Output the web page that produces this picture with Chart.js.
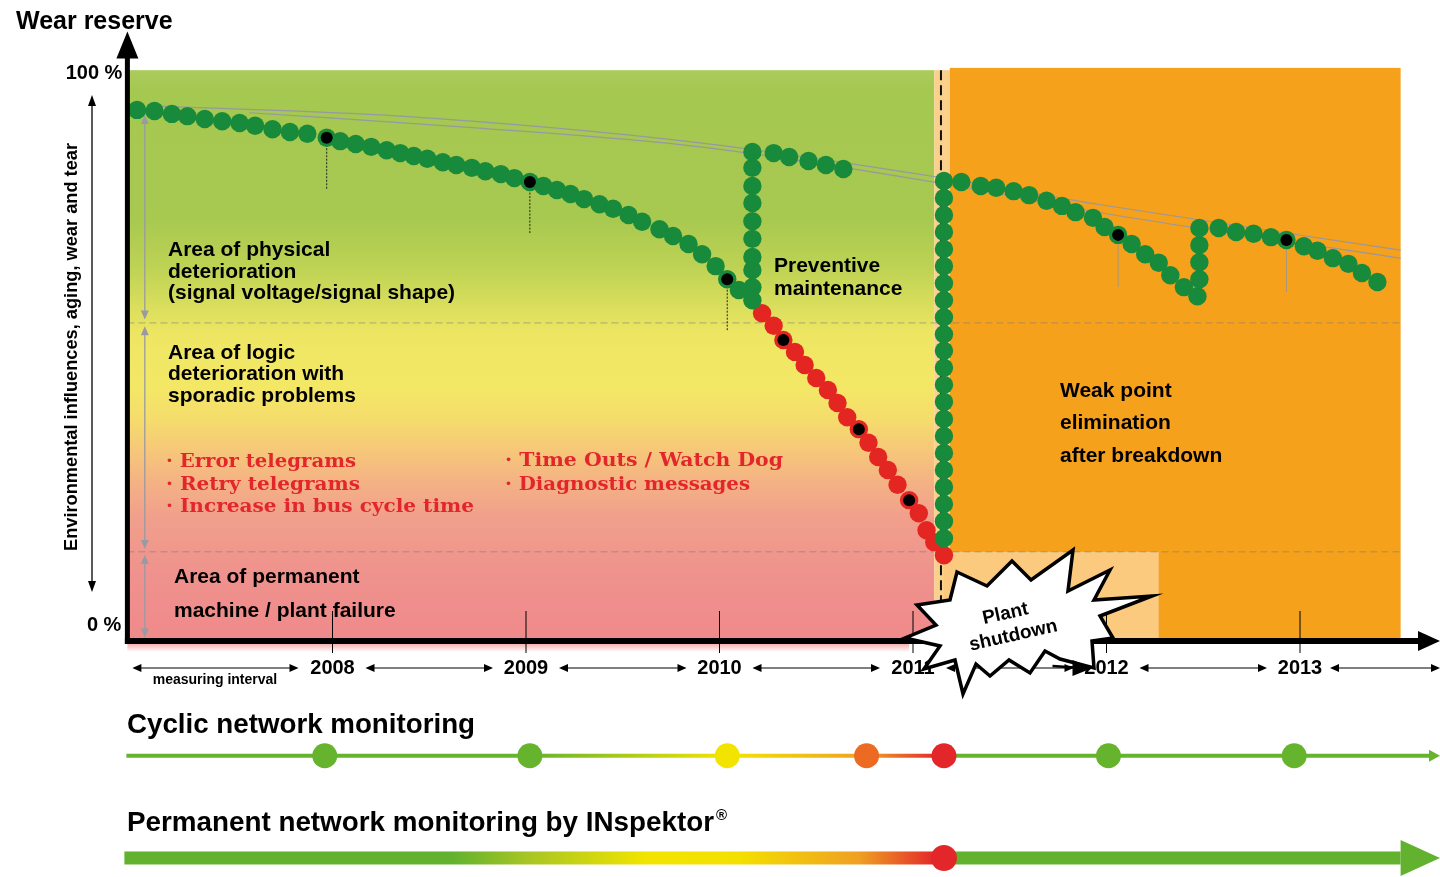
<!DOCTYPE html>
<html>
<head>
<meta charset="utf-8">
<title>Wear reserve</title>
<script src="https://cdn.jsdelivr.net/npm/chart.js@4.4.0/dist/chart.umd.min.js"></script>
<style>
  html, body { margin: 0; padding: 0; background: #fff; overflow: hidden; }
  canvas { display: block; }
</style>
</head>
<body>
<canvas id="chart" width="1440" height="877"></canvas>
<script>
// ---- data (years on x, wear reserve in % on y) ----
const yearTicks = [2008, 2009, 2010, 2011, 2012, 2013];
const zoneLevels = [56, 15.7];          // physical / logic / failure boundaries
const plotStart = 2006.94;              // y axis
const plotEnd = 2013.52;                // end of shaded areas
const shutdownYear = 2011.16;
const paleBoxEnd = 2012.27;

// ageing without monitoring
const agingYears = [2006.99, 2007.08, 2007.17, 2007.25, 2007.34, 2007.43, 2007.52, 2007.60, 2007.69, 2007.78,
  2007.87, 2007.97, 2008.04, 2008.12, 2008.20, 2008.28, 2008.35, 2008.42, 2008.49, 2008.57, 2008.64, 2008.72,
  2008.79, 2008.87, 2008.94, 2009.02, 2009.09, 2009.16, 2009.23, 2009.30, 2009.38, 2009.45, 2009.53, 2009.60,
  2009.69, 2009.76, 2009.84, 2009.91, 2009.98, 2010.04, 2010.10, 2010.17];
const agingWear = [93.5, 93.3, 92.8, 92.4, 91.9, 91.5, 91.2, 90.7, 90.1, 89.6, 89.3, 88.6, 88.0, 87.5, 87.0, 86.4,
  85.9, 85.4, 84.9, 84.3, 83.8, 83.3, 82.7, 82.2, 81.5, 80.8, 80.1, 79.4, 78.7, 77.8, 76.9, 76.1, 75.0, 73.8, 72.5,
  71.3, 69.9, 68.1, 66.0, 63.7, 61.8, 60.0];

// preventive maintenance
const maintYears = [2010.17, 2010.17, 2010.17, 2010.17, 2010.17, 2010.17, 2010.17, 2010.17, 2010.17,
  2010.28, 2010.36, 2010.46, 2010.55, 2010.64];
const maintWear = [62.3, 65.3, 67.6, 70.8, 73.9, 77.1, 80.1, 83.3, 86.1, 85.9, 85.2, 84.5, 83.8, 83.1];

// failure path
const failYears = [2010.22, 2010.28, 2010.33, 2010.39, 2010.44, 2010.50, 2010.56, 2010.61, 2010.66, 2010.72,
  2010.77, 2010.82, 2010.87, 2010.92, 2010.98, 2011.03, 2011.07, 2011.11, 2011.16];
const failWear = [57.7, 55.5, 53.0, 50.9, 48.6, 46.3, 44.2, 41.9, 39.4, 37.3, 34.9, 32.4, 30.1, 27.5, 24.8, 22.5,
  19.5, 17.4, 15.1];

// repair after shutdown (all at shutdownYear)
const repairWear = [18.1, 21.1, 24.1, 27.1, 30.1, 33.1, 36.1, 39.1, 42.1, 45.1, 48.1, 51.1, 54.0, 57.0, 60.0,
  63.0, 66.0, 69.0, 72.0, 75.0, 78.0, 81.0];

// after weak point elimination
const recoveryYears = [2011.25, 2011.35, 2011.43, 2011.52, 2011.60, 2011.69, 2011.77, 2011.84, 2011.93, 2011.99,
  2012.06, 2012.13, 2012.20, 2012.27, 2012.33, 2012.40, 2012.47, 2012.48, 2012.48, 2012.48, 2012.48, 2012.58,
  2012.67, 2012.76, 2012.85, 2012.93, 2013.02, 2013.09, 2013.17, 2013.25, 2013.32, 2013.40];
const recoveryWear = [80.8, 80.1, 79.8, 79.2, 78.5, 77.5, 76.6, 75.5, 74.5, 72.9, 71.5, 69.9, 68.1, 66.6, 64.4,
  62.3, 60.7, 63.7, 66.7, 69.7, 72.7, 72.7, 72.0, 71.7, 71.1, 70.6, 69.5, 68.7, 67.4, 66.4, 64.8, 63.2];

// measurement points
const checkYears = [2007.97, 2009.02, 2010.04, 2010.33, 2010.72, 2010.98, 2012.06, 2012.93];
const checkWear = [88.6, 80.8, 63.7, 53.0, 37.3, 24.8, 71.5, 70.6];

// ideal trend lines
const trendUpperYears = [2007.06, 2008.35, 2009.90, 2011.16, 2011.97, 2013.52];
const trendUpper = [94.2, 92.4, 87.7, 81.5, 76.8, 68.8];
const trendLowerYears = [2007.57, 2008.76, 2009.90, 2011.16, 2011.97, 2013.52];
const trendLower = [93.0, 90.3, 87.0, 80.5, 75.4, 67.4];

// cyclic monitoring measurements
const cycleYears = [2007.96, 2009.02, 2010.04, 2010.76, 2011.16, 2012.01, 2012.97];
const cycleState = ['ok', 'ok', 'warn', 'alarm', 'fail', 'ok', 'ok'];
const permanentYears = [2011.16];
const permanentState = ['fail'];

// rows of the monitoring strips (below the axis, same y scale)
const rowCyclic = -20.2;
const rowPermanent = -38.2;

const stateColor = { ok: '#66b32e', warn: '#f3e400', alarm: '#ec6a22', fail: '#e3262a' };
const FONT = "'Liberation Sans', Arial, sans-serif";
const SERIF = "'DejaVu Serif', 'Liberation Serif', serif";

const pts = (xs, ys) => xs.map((x, i) => ({ x, y: ys[i] }));

function text(ctx, s, x, y, font, color, align, width) {
  ctx.save();
  ctx.font = font;
  ctx.fillStyle = color || '#000';
  ctx.textAlign = align || 'left';
  ctx.textBaseline = 'middle';
  ctx.translate(x, y);
  if (width) ctx.scale(width / ctx.measureText(s).width, 1);
  ctx.fillText(s, 0, 0);
  ctx.restore();
}

function head(ctx, x, y, ang, len, half) {
  ctx.save();
  ctx.translate(x, y);
  ctx.rotate(ang);
  ctx.beginPath();
  ctx.moveTo(0, 0);
  ctx.lineTo(-len, -half);
  ctx.lineTo(-len, half);
  ctx.closePath();
  ctx.fill();
  ctx.restore();
}

function hArrow(ctx, x1, x2, y, color, len, half) {
  ctx.save();
  ctx.strokeStyle = color; ctx.fillStyle = color; ctx.lineWidth = 1.2;
  ctx.beginPath(); ctx.moveTo(x1 + 2, y); ctx.lineTo(x2 - 2, y); ctx.stroke();
  head(ctx, x2, y, 0, len, half);
  head(ctx, x1, y, Math.PI, len, half);
  ctx.restore();
}

function vArrow(ctx, x, y1, y2, color, len, half, lw) {
  ctx.save();
  ctx.strokeStyle = color; ctx.fillStyle = color; ctx.lineWidth = lw || 1.2;
  ctx.beginPath(); ctx.moveTo(x, y1 + 3); ctx.lineTo(x, y2 - 3); ctx.stroke();
  head(ctx, x, y1, -Math.PI / 2, len, half);
  head(ctx, x, y2, Math.PI / 2, len, half);
  ctx.restore();
}

const backdrop = {
  id: 'backdrop',
  beforeDatasetsDraw(chart) {
    const { ctx, scales: { x, y } } = chart;
    const X = v => x.getPixelForValue(v), Y = v => y.getPixelForValue(v);
    const left = X(plotStart), top = Y(100.5), bottom = Y(0);
    const gEnd = X(2011.11), oStart = X(2011.19), right = X(plotEnd);

    // wear area gradient
    const stops = [[100.5, '#abcb5c'], [97, '#a5c850'], [74, '#a8c950'], [66, '#bdd254'], [59, '#d9de5c'],
      [54, '#eee663'], [45, '#f3e865'], [39, '#f5dc6c'], [34, '#f6c978'], [28, '#f4b284'], [22, '#f1a08c'],
      [12, '#ef928d'], [0, '#ef8a8b']];
    const g = ctx.createLinearGradient(0, top, 0, bottom);
    stops.forEach(([p, c]) => g.addColorStop((Y(p) - top) / (bottom - top), c));
    ctx.fillStyle = g;
    ctx.fillRect(left, top, gEnd - left, bottom - top);

    // shadow below the axis
    const sh = ctx.createLinearGradient(0, bottom, 0, bottom + 11);
    sh.addColorStop(0, 'rgba(236,110,110,0.75)');
    sh.addColorStop(1, 'rgba(236,110,110,0)');
    ctx.fillStyle = sh;
    ctx.fillRect(left, bottom, X(2010.98) - left, 11);

    // strip + orange region
    ctx.fillStyle = '#fbd08b';
    ctx.fillRect(gEnd, top, oStart - gEnd, bottom - top);
    ctx.fillStyle = '#f5a11b';
    ctx.fillRect(oStart, Y(100.9), right - oStart, bottom - Y(100.9));
    ctx.fillStyle = '#fbca7e';
    ctx.fillRect(X(shutdownYear), Y(zoneLevels[1]), X(paleBoxEnd) - X(shutdownYear), bottom - Y(zoneLevels[1]));

    // zone boundaries
    ctx.save();
    ctx.setLineDash([7, 4]);
    ctx.lineWidth = 1;
    ctx.strokeStyle = 'rgba(120,120,130,0.55)';
    zoneLevels.forEach(v => {
      ctx.beginPath(); ctx.moveTo(left, Y(v)); ctx.lineTo(right, Y(v)); ctx.stroke();
    });
    ctx.restore();

    // zone height arrows
    const ax = X(2007.03);
    vArrow(ctx, ax, Y(92.6), Y(zoneLevels[0] + 0.6), '#9a9aa2', 9, 4, 1.3);
    vArrow(ctx, ax, Y(zoneLevels[0] - 0.6), Y(zoneLevels[1] + 0.5), '#9a9aa2', 9, 4, 1.3);
    vArrow(ctx, ax, Y(zoneLevels[1] - 0.5), Y(0.6), '#9a9aa2', 9, 4, 1.3);

    // shutdown line
    ctx.save();
    ctx.setLineDash([10, 5]);
    ctx.lineWidth = 2;
    ctx.strokeStyle = '#111';
    const sx = X(shutdownYear) - 3;
    ctx.beginPath(); ctx.moveTo(sx, top); ctx.lineTo(sx, bottom); ctx.stroke();
    ctx.restore();

    // drop lines below measurement points
    checkYears.forEach((cy, i) => {
      if (cy > 2010.2 && cy < shutdownYear) return;
      const px = X(cy), py = Y(checkWear[i]);
      ctx.save();
      if (cy < shutdownYear) { ctx.setLineDash([2, 1.5]); ctx.strokeStyle = '#222'; }
      else ctx.strokeStyle = 'rgba(150,150,150,0.8)';
      ctx.lineWidth = 1;
      ctx.beginPath(); ctx.moveTo(px, py); ctx.lineTo(px, py + 52); ctx.stroke();
      ctx.restore();
    });

    // cyclic monitoring strip
    const x0 = X(plotStart) - 1, xr = X(x.max);
    const yc = Y(rowCyclic);
    const cg = ctx.createLinearGradient(x0, 0, xr, 0);
    const cf = v => (X(v) - x0) / (xr - x0);
    cg.addColorStop(0, stateColor.ok);
    cg.addColorStop(cf(2009.02), stateColor.ok);
    cg.addColorStop(cf(2010.04), '#f3e400');
    cg.addColorStop(cf(2010.76), '#efa024');
    cg.addColorStop(cf(2011.14), '#e3262a');
    cg.addColorStop(cf(2011.16), stateColor.ok);
    cg.addColorStop(1, stateColor.ok);
    ctx.fillStyle = cg;
    ctx.fillRect(x0, yc - 2, xr - 10 - x0, 4);
    ctx.fillStyle = stateColor.ok;
    head(ctx, xr, yc, 0, 11, 6);

    // permanent monitoring strip
    const yp = Y(rowPermanent);
    const pg = ctx.createLinearGradient(x0, 0, xr, 0);
    pg.addColorStop(0, '#62b22f');
    pg.addColorStop(cf(2008.62), '#62b22f');
    pg.addColorStop(cf(2009.0), '#a6c524');
    pg.addColorStop(cf(2009.62), '#f2e400');
    pg.addColorStop(cf(2010.1), '#f3e000');
    pg.addColorStop(cf(2010.72), '#efa022');
    pg.addColorStop(cf(2011.12), '#e3262a');
    pg.addColorStop(cf(2011.16), '#62b22f');
    pg.addColorStop(1, '#62b22f');
    ctx.fillStyle = pg;
    ctx.fillRect(x0 - 2, yp - 6.5, X(plotEnd) - x0 + 2, 13);
    ctx.fillStyle = '#62b22f';
    ctx.beginPath();
    ctx.moveTo(X(plotEnd), yp - 18);
    ctx.lineTo(xr, yp);
    ctx.lineTo(X(plotEnd), yp + 18);
    ctx.closePath();
    ctx.fill();
  },

  afterDatasetsDraw(chart) {
    const { ctx, scales: { x, y } } = chart;
    const X = v => x.getPixelForValue(v), Y = v => y.getPixelForValue(v);
    const left = X(plotStart), bottom = Y(0), xr = X(x.max);

    // axes
    ctx.save();
    ctx.fillStyle = '#000';
    ctx.fillRect(left - 2.5, Y(104), 5, bottom - Y(104) + 3);
    head(ctx, left, Y(107.3), -Math.PI / 2, 27, 11);
    ctx.fillRect(left - 2.5, bottom - 3, xr - 18 - left, 6);
    head(ctx, xr, bottom, 0, 22, 10);
    ctx.restore();

    // year ticks, labels and measuring intervals
    const ly = bottom + 27;
    ctx.save();
    ctx.strokeStyle = '#000'; ctx.lineWidth = 1;
    yearTicks.forEach(yr => {
      const px = X(yr);
      ctx.beginPath(); ctx.moveTo(px, bottom - 30); ctx.lineTo(px, bottom + 12); ctx.stroke();
    });
    ctx.restore();
    yearTicks.forEach(yr => text(ctx, String(yr), X(yr), ly, 'bold 20px ' + FONT, '#000', 'center'));
    hArrow(ctx, left + 5, X(yearTicks[0]) - 34, ly, '#000', 9, 4);
    text(ctx, 'measuring interval', (left + X(yearTicks[0]) - 30) / 2, ly + 12, 'bold 14px ' + FONT, '#000', 'center');
    for (let i = 0; i < yearTicks.length - 1; i++) {
      hArrow(ctx, X(yearTicks[i]) + 33, X(yearTicks[i + 1]) - 33, ly, '#000', 9, 4);
    }
    hArrow(ctx, X(yearTicks[yearTicks.length - 1]) + 30, xr, ly, '#000', 9, 4);

    // y axis labels
    text(ctx, 'Wear reserve', 16, 22, 'bold 25px ' + FONT, '#000', 'left');
    text(ctx, '100 %', left - 5, Y(100), 'bold 20px ' + FONT, '#000', 'right');
    text(ctx, '0 %', left - 6, Y(2.8), 'bold 20px ' + FONT, '#000', 'right');
    vArrow(ctx, 92, 95, 592, '#000', 11, 4, 1.3);
    ctx.save();
    ctx.translate(72, 347);
    ctx.rotate(-Math.PI / 2);
    text(ctx, 'Environmental influences, aging, wear and tear', 0, 0, 'bold 18px ' + FONT, '#000', 'center', 408);
    ctx.restore();

    // area descriptions
    const bf = 'bold 21px ' + FONT;
    text(ctx, 'Area of physical', 168, 250, bf);
    text(ctx, 'deterioration', 168, 272, bf);
    text(ctx, '(signal voltage/signal shape)', 168, 293, bf);
    text(ctx, 'Area of logic', 168, 353, bf);
    text(ctx, 'deterioration with', 168, 374, bf);
    text(ctx, 'sporadic problems', 168, 396, bf);
    text(ctx, 'Area of permanent', 174, 577, bf);
    text(ctx, 'machine / plant failure', 174, 611, bf);
    text(ctx, 'Preventive', 774, 266, bf);
    text(ctx, 'maintenance', 774, 289, bf);
    text(ctx, 'Weak point', 1060, 391, bf);
    text(ctx, 'elimination', 1060, 423, bf);
    text(ctx, 'after breakdown', 1060, 456, bf);

    const rf = 'bold 19px ' + SERIF, red = '#e3262b';
    text(ctx, '· Error telegrams', 166, 462, rf, red, 'left', 190);
    text(ctx, '· Retry telegrams', 166, 485, rf, red, 'left', 194);
    text(ctx, '· Increase in bus cycle time', 166, 507, rf, red, 'left', 308);
    text(ctx, '· Time Outs / Watch Dog', 505, 461, rf, red, 'left', 278);
    text(ctx, '· Diagnostic messages', 505, 485, rf, red, 'left', 245);

    // plant shutdown burst
    const star = [[957, 572], [987, 586], [1012, 561], [1031, 580], [1073, 550], [1068, 591], [1110, 570],
      [1094, 600], [1152, 596], [1100, 616], [1113, 638], [1092, 641], [1094, 668], [1060, 659], [1045, 651],
      [1030, 673], [1009, 660], [990, 676], [976, 664], [963, 694], [955, 660], [924, 669], [940, 646],
      [905, 638], [936, 625], [917, 605], [950, 600]];
    ctx.save();
    ctx.beginPath();
    star.forEach(([sx, sy], i) => i ? ctx.lineTo(sx, sy) : ctx.moveTo(sx, sy));
    ctx.closePath();
    ctx.fillStyle = '#fff';
    ctx.fill();
    ctx.lineWidth = 3.5;
    ctx.lineJoin = 'miter';
    ctx.strokeStyle = '#000';
    ctx.stroke();
    ctx.restore();
    // arrow tip over the burst
    ctx.save();
    ctx.strokeStyle = '#000'; ctx.fillStyle = '#000'; ctx.lineWidth = 2.5;
    const tip = X(yearTicks[4]) - 14;
    ctx.beginPath(); ctx.moveTo(tip - 40, ly - 2); ctx.lineTo(tip - 10, ly); ctx.stroke();
    head(ctx, tip, ly, 0, 20, 8);
    ctx.restore();
    ctx.save();
    ctx.translate(1011, 625);
    ctx.rotate(-0.22);
    text(ctx, 'Plant', -3, -12, 'bold 19px ' + FONT, '#000', 'center');
    text(ctx, 'shutdown', 0, 11, 'bold 19px ' + FONT, '#000', 'center');
    ctx.restore();

    // monitoring titles
    text(ctx, 'Cyclic network monitoring', 127, 725, 'bold 28px ' + FONT, '#000', 'left', 348);
    text(ctx, 'Permanent network monitoring by INspektor', 127, 823, 'bold 28px ' + FONT, '#000', 'left', 587);
    text(ctx, '®', 716, 816, 'bold 15px ' + FONT, '#000', 'left');
  }
};

Chart.defaults.font.family = FONT;

const dot = (data, color, r, order) => ({
  data, showLine: false, order,
  pointRadius: r, pointHoverRadius: r,
  pointBackgroundColor: color, pointBorderWidth: 0, pointBorderColor: color
});

new Chart(document.getElementById('chart'), {
  type: 'scatter',
  data: {
    datasets: [
      {
        data: pts(trendUpperYears, trendUpper), showLine: true, order: 9, pointRadius: 0,
        borderColor: 'rgba(150,150,165,0.95)', borderWidth: 1.2, cubicInterpolationMode: 'monotone'
      },
      {
        data: pts(trendLowerYears, trendLower), showLine: true, order: 9, pointRadius: 0,
        borderColor: 'rgba(150,150,165,0.95)', borderWidth: 1.2, cubicInterpolationMode: 'monotone'
      },
      dot(pts(agingYears, agingWear), '#188a3b', 9.2, 4),
      dot(pts(maintYears, maintWear), '#188a3b', 9.2, 4),
      dot(pts(failYears, failWear), '#e42623', 9.2, 4),
      dot(pts(repairWear.map(() => shutdownYear), repairWear), '#188a3b', 9.2, 3),
      dot(pts(recoveryYears, recoveryWear), '#188a3b', 9.2, 3),
      {
        data: pts(checkYears, checkWear), showLine: false, order: 1,
        pointRadius: 6, pointBackgroundColor: '#000', pointBorderWidth: 0
      },
      {
        data: pts(cycleYears, cycleYears.map(() => rowCyclic)), showLine: false, order: 2,
        pointRadius: 12.5, pointBorderWidth: 0, pointBackgroundColor: cycleState.map(s => stateColor[s])
      },
      {
        data: pts(permanentYears, permanentYears.map(() => rowPermanent)), showLine: false, order: 2,
        pointRadius: 13, pointBorderWidth: 0, pointBackgroundColor: permanentState.map(s => stateColor[s])
      }
    ]
  },
  options: {
    responsive: false,
    animation: false,
    events: [],
    layout: { padding: 0, autoPadding: false },
    plugins: { legend: { display: false }, tooltip: { enabled: false } },
    scales: {
      x: { type: 'linear', display: false, min: 2006.28165, max: 2013.72351 },
      y: { type: 'linear', display: false, min: -41.549, max: 112.852 }
    }
  },
  plugins: [backdrop]
});
</script>
</body>
</html>
